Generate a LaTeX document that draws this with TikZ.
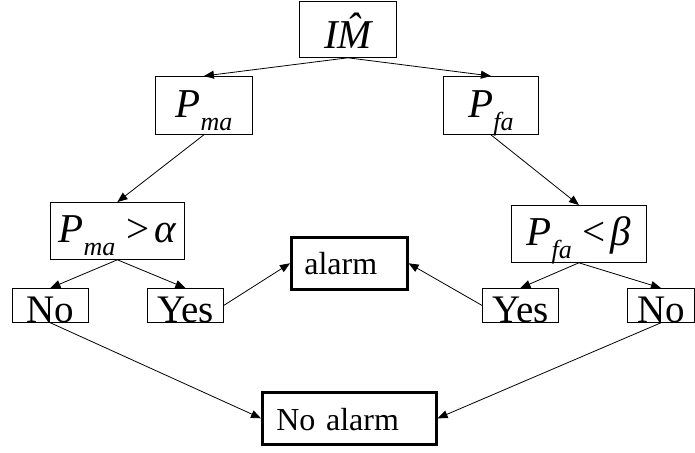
\documentclass[tikz,border=0pt]{standalone}
\usepackage{fontspec}
\setmainfont{Liberation Serif}
\usetikzlibrary{arrows.meta}
\newcommand\sbs[1]{\raisebox{-13pt}{\fontsize{26}{26}\selectfont\itshape #1}}
\begin{document}
\begin{tikzpicture}[x=1pt,y=-1pt,
  box/.style={draw, line width=0.8pt, inner sep=0pt, anchor=north west},
  thickbox/.style={box, line width=2.6pt},
  mathtxt/.style={font=\fontsize{41}{41}\selectfont},
  yn/.style={box, minimum width=76pt, minimum height=34pt, text height=34pt, text depth=0pt, font=\fontsize{39}{39}\selectfont},
  arr/.style={line width=0.8pt, -{Triangle[length=10pt,width=8pt]}}]
\useasboundingbox (0,0) rectangle (695,452);
\node[box, mathtxt, minimum width=97pt, minimum height=56pt, text height=38pt, text depth=0pt] (im) at (299,1) {\itshape IM^^^^0302};
\node[box, mathtxt, minimum width=97pt, minimum height=58pt, text height=24pt, text depth=0pt] (pma) at (155,76) {\itshape P\sbs{ma}};
\node[box, mathtxt, minimum width=95pt, minimum height=58pt, text height=24pt, text depth=0pt] (pfa) at (443,76) {\itshape P\sbs{fa}};
\node[box, mathtxt, minimum width=134pt, minimum height=57pt, text height=23pt, text depth=0pt] (pmaa) at (50,202) {{\itshape P}\sbs{ma}\hspace{11pt}>\hspace{5pt}{\itshape α}};
\node[box, mathtxt, minimum width=135pt, minimum height=57pt, text height=23pt, text depth=0pt] (pfab) at (511,205) {{\itshape P}\sbs{fa}\hspace{11pt}<\hspace{5pt}{\itshape β}};
\node[yn] (noL) at (12,288) {No};
\node[yn] (yesL) at (147,288) {Yes};
\node[yn] (yesR) at (482,288) {Yes};
\node[yn, minimum width=67pt] (noR) at (627,288) {No};
\node[thickbox, inner xsep=13pt, text width=90pt, align=left, minimum height=52pt, text height=22pt, text depth=0pt, font=\fontsize{32}{32}\selectfont] (alarm) at (290,236) {alarm};
\node[thickbox, inner xsep=14pt, text width=146pt, align=left, minimum height=52pt, text height=24pt, text depth=0pt, font=\fontsize{32}{32}\selectfont] (noalarm) at (261,391) {No alarm};
\draw[arr] (im.south) -- (pma.north);
\draw[arr] (im.south) -- (pfa.north);
\draw[arr] (pma.south) -- (pmaa.north);
\draw[arr] (pfa.south) -- (pfab.north);
\draw[arr] (pmaa.south) -- (noL.north);
\draw[arr] (pmaa.south) -- (yesL.north);
\draw[arr] (pfab.south) -- (yesR.north);
\draw[arr] (pfab.south) -- (noR.north);
\draw[arr] (yesL.east) -- (alarm.west);
\draw[arr] (yesR.west) -- (alarm.east);
\draw[arr] (noL.south) -- (noalarm.west);
\draw[arr] (noR.south) -- (noalarm.east);
\end{tikzpicture}
\end{document}
